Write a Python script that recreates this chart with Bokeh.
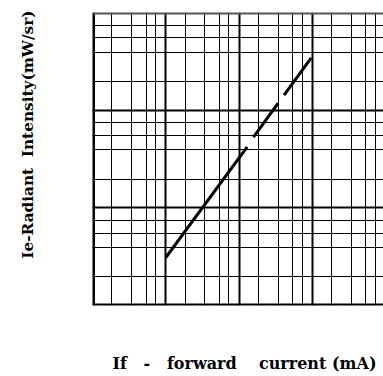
import numpy as np
from bokeh.plotting import figure
from bokeh.models import Range1d, Grid, FixedTicker, Span, Title, LinearAxis
from bokeh.embed import file_html
from bokeh.resources import INLINE

# ---- data ----
if_continuous = [10, 129]          # forward current, mA (solid part)
ie_continuous = [0.31, 4.2]        # radiant intensity, mW/sr
if_pulsed = [157, 963]             # forward current, mA (dashed part)
ie_pulsed = [5.3, 34.4]            # radiant intensity, mW/sr

x_label = "If\u00a0\u00a0\u00a0-\u00a0\u00a0\u00a0forward\u00a0\u00a0\u00a0\u00a0current\u00a0(mA)"
y_label = "Ie-Radiant\u00a0\u00a0Intensity(mW/sr)"

# axis ranges (log-log, no tick labels)
x_start, x_end = 1.0, 9333.0
y_start, y_end = 0.1, 100.0

# grid subdivisions inside each decade (as drawn in the chart)
x_sub = [1.83, 3.4, 5.37, 7.28]
y_sub = [1.96, 3.94, 5.5, 7.4]

W, H = 383, 376
p = figure(width=W, height=H, x_axis_type="log", y_axis_type="log",
           x_range=Range1d(x_start, x_end), y_range=Range1d(y_start, y_end),
           x_axis_location=None, y_axis_location=None,
           output_backend="svg", toolbar_location=None,
           min_border_left=92, min_border_right=0, min_border_top=12, min_border_bottom=71)
p.outline_line_color = None
p.background_fill_color = "white"
p.border_fill_color = "white"
p.grid.grid_line_color = None

def minor_ticks(start, end, subs):
    out = []
    dec = 10.0 ** np.floor(np.log10(start))
    while dec < end:
        for s in subs:
            v = dec * s
            if start < v < end:
                out.append(float(v))
        dec *= 10
    return out

def decade_ticks(start, end):
    out = []
    dec = 10.0 ** np.ceil(np.log10(start))
    while dec < end:
        if dec > start * 1.0001:
            out.append(float(dec))
        dec *= 10
    return out

for dim, (s, e, subs) in enumerate([(x_start, x_end, x_sub), (y_start, y_end, y_sub)]):
    p.add_layout(Grid(dimension=dim, ticker=FixedTicker(ticks=minor_ticks(s, e, subs)),
                      grid_line_color="black", grid_line_width=1))
    p.add_layout(Grid(dimension=dim, ticker=FixedTicker(ticks=decade_ticks(s, e)),
                      grid_line_color="black", grid_line_width=2))

p.add_layout(Span(location=x_start, dimension="height", line_color="black", line_width=5))
p.add_layout(Span(location=y_start, dimension="width", line_color="black", line_width=4))
p.add_layout(Span(location=y_end, dimension="width", line_color="#555555", line_width=4))

p.line(if_continuous, ie_continuous, line_color="black", line_width=3)
p.line(if_pulsed, ie_pulsed, line_color="black", line_width=3, line_dash="42 10 48")

def spacer_axis(gap):
    ax = LinearAxis(ticker=FixedTicker(ticks=[]), axis_label="\u00a0",
                    axis_label_standoff=gap, axis_label_text_font_size="1px",
                    major_tick_out=0, minor_tick_out=0, major_tick_in=0, minor_tick_in=0,
                    major_label_standoff=0, axis_line_color=None,
                    major_tick_line_color=None, minor_tick_line_color=None)
    return ax

xfont = dict(text_font="DejaVu Serif", text_font_style="bold", text_font_size="16px",
             text_color="black")
yfont = dict(text_font="DejaVu Serif", text_font_style="bold", text_font_size="15.3px",
             text_color="black")

p.add_layout(spacer_axis(44), "below")
p.add_layout(Title(text=x_label, align="left", offset=20, vertical_align="top",
                   standoff=0, **xfont), "below")

p.add_layout(spacer_axis(52), "left")
p.add_layout(Title(text=y_label, align="right", offset=-2, vertical_align="bottom",
                   standoff=0, **yfont), "left")

open("out.html", "w").write(file_html(p, INLINE))
